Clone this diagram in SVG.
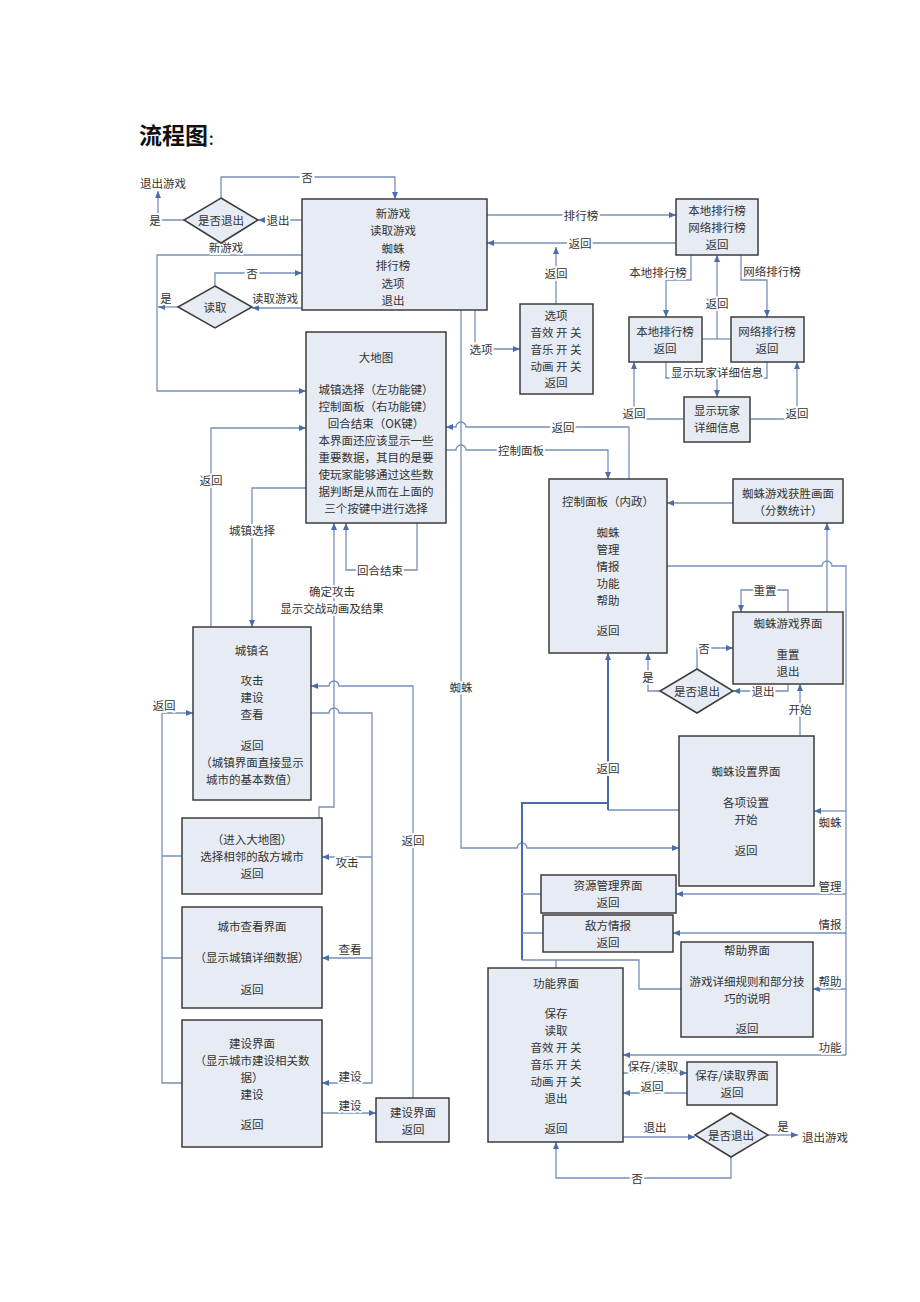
<svg xmlns="http://www.w3.org/2000/svg" width="920" height="1302" viewBox="0 0 920 1302">
<style>
.box{fill:#e6ebf4;stroke:#3c3c3c;stroke-width:1.5}
.t{font-family:"Noto Sans CJK SC","Liberation Serif",sans-serif;font-size:11.5px;fill:#333;text-anchor:middle;dominant-baseline:central}
.l{font-family:"Noto Sans CJK SC","Liberation Serif",sans-serif;font-size:11.5px;fill:#333;text-anchor:middle;dominant-baseline:central;paint-order:stroke;stroke:#fff;stroke-width:4px;stroke-linejoin:round}
.c{fill:none;stroke:#7890ba;stroke-width:1.3}
.a{marker-end:url(#ah)}
.k{fill:none;stroke:#4a6cad;stroke-width:2}
</style>
<defs>
<marker id="ah" markerWidth="7" markerHeight="6" refX="7" refY="3" orient="auto" markerUnits="userSpaceOnUse"><path d="M0,0 L7,3 L0,6 Z" fill="#4a6cad"/></marker>
</defs>
<rect width="920" height="1302" fill="#fff"/>
<g id="title"><text x="139" y="144" style="font-family:'Noto Sans CJK SC',sans-serif;font-size:23px;font-weight:bold;fill:#111">流程图<tspan style="font-size:13px">：</tspan></text></g>

<g id="connectors">
<path class="c a" d="M302,220 H258"/>
<path class="c a" d="M221,198 V177 H395 V199"/>
<path class="c a" d="M184,220 H158 V191"/>
<path class="c a" d="M302,255 H157 V391 H306"/>
<path class="c a" d="M215,286 V273 H302"/>
<path class="c a" d="M302,308 H252"/>
<path class="c a" d="M178,307 H158"/>
<path class="c a" d="M487,215 H676"/>
<path class="c a" d="M676,243 H487"/>
<path class="c a" d="M556,304 V247"/>
<path class="c a" d="M475,310 V349 H520"/>
<path class="c a" d="M461,310 V848 H517 A5,5 0 0 1 527,848 H679"/>
<path class="c a" d="M691,255 V280 H666 V317"/>
<path class="c a" d="M741,255 V280 H767 V317"/>
<path class="c" d="M702,339 H731"/>
<path class="c a" d="M717,339 V255"/>
<path class="c" d="M666,362 V378 H767 V362"/>
<path class="c a" d="M717,378 V397"/>
<path class="c a" d="M684,419 H634 V362"/>
<path class="c a" d="M750,419 H797 V362"/>
<path class="c a" d="M629,479 V427 H466 A5,5 0 0 0 456,427 H446"/>
<path class="c a" d="M446,450 H456 A5,5 0 0 1 466,450 H608 V479"/>
<path class="c a" d="M733,503 H667"/>
<path class="c" d="M667,566 H822 A5,5 0 0 1 832,566 H846 V1055"/>
<path class="c a" d="M846,811 H814"/>
<path class="c a" d="M846,894 H676"/>
<path class="c a" d="M846,933 H673"/>
<path class="c a" d="M846,989 H813"/>
<path class="c a" d="M846,1055 H623"/>
<path class="c a" d="M827,612 V523"/>
<path class="c a" d="M788,612 V590 H741 V612"/>
<path class="c a" d="M788,684 V691 H733"/>
<path class="c a" d="M697,669 V648 H733"/>
<path class="c a" d="M660,691 H648 V653"/>
<path class="c a" d="M800,736 V684"/>
<path class="c" d="M679,810 H608"/>
<path class="k a" d="M608,810 V653"/>
<path class="k" d="M522,960 V803 H608"/>
<path class="c" d="M541,894 H522 M543,933 H522"/>
<path class="c" d="M681,989 H639 V960 H522 M556,968 V960"/>
<path class="c a" d="M623,1073 H687"/>
<path class="c a" d="M687,1093 H623"/>
<path class="c a" d="M623,1137 H695"/>
<path class="c a" d="M768,1135 H798"/>
<path class="c a" d="M731,1157 V1178 H556 V1142"/>
<path class="c a" d="M211,627 V428 H306"/>
<path class="c a" d="M306,488 H252 V627"/>
<path class="c a" d="M417,523 V570 H346 V523"/>
<path class="c a" d="M319,818 V807 H334 V523"/>
<path class="c a" d="M413,1098 V686 H339 A5,5 0 0 0 329,686 H311"/>
<path class="c a" d="M311,713 H329 A5,5 0 0 1 339,713 H372 V1083 H322"/>
<path class="c a" d="M372,857 H322"/>
<path class="c a" d="M372,958 H322"/>
<path class="c a" d="M182,856 H162 M182,958 H162 M182,1083 H162 V713 H193"/>
<path class="c a" d="M320,1113 H376"/>
<text class="l" x="278" y="220">退出</text>
<text class="l" x="307" y="177">否</text>
<text class="l" x="155" y="220">是</text>
<text class="l" x="226" y="247">新游戏</text>
<text class="l" x="252" y="273">否</text>
<text class="l" x="275" y="298">读取游戏</text>
<text class="l" x="166" y="298">是</text>
<text class="l" x="581" y="215">排行榜</text>
<text class="l" x="580" y="243">返回</text>
<text class="l" x="556" y="273">返回</text>
<text class="l" x="481" y="349">选项</text>
<text class="l" x="461" y="687">蜘蛛</text>
<text class="l" x="658" y="272">本地排行榜</text>
<text class="l" x="772" y="271">网络排行榜</text>
<text class="l" x="717" y="303">返回</text>
<text class="l" x="717" y="372">显示玩家详细信息</text>
<text class="l" x="634" y="413">返回</text>
<text class="l" x="797" y="413">返回</text>
<text class="l" x="563" y="427">返回</text>
<text class="l" x="521" y="450">控制面板</text>
<text class="l" x="765" y="590">重置</text>
<text class="l" x="763" y="691">退出</text>
<text class="l" x="704" y="648">否</text>
<text class="l" x="648" y="677">是</text>
<text class="l" x="800" y="709">开始</text>
<text class="l" x="608" y="768">返回</text>
<text class="l" x="830" y="822">蜘蛛</text>
<text class="l" x="830" y="886">管理</text>
<text class="l" x="830" y="924">情报</text>
<text class="l" x="830" y="981">帮助</text>
<text class="l" x="830" y="1047">功能</text>
<text class="l" x="653" y="1066">保存/读取</text>
<text class="l" x="652" y="1086">返回</text>
<text class="l" x="655" y="1127">退出</text>
<text class="l" x="783" y="1126">是</text>
<text class="l" x="637" y="1178">否</text>
<text class="l" x="211" y="480">返回</text>
<text class="l" x="252" y="530">城镇选择</text>
<text class="l" x="380" y="570">回合结束</text>
<text class="l" x="332" y="591">确定攻击</text>
<text class="l" x="332" y="608">显示交战动画及结果</text>
<text class="l" x="413" y="840">返回</text>
<text class="l" x="347" y="862">攻击</text>
<text class="l" x="350" y="949">查看</text>
<text class="l" x="350" y="1076">建设</text>
<text class="l" x="164" y="705">返回</text>
<text class="l" x="350" y="1105">建设</text>
</g>

<g id="exit-game-top"><text class="t" x="163" y="183">退出游戏</text></g>
<g id="exit-game-bottom"><text class="t" x="825" y="1137">退出游戏</text></g>

<g id="main-menu">
<rect class="box" x="302" y="199" width="185" height="111"/>
<text class="t" x="393" y="213">新游戏</text>
<text class="t" x="393" y="230">读取游戏</text>
<text class="t" x="393" y="248">蜘蛛</text>
<text class="t" x="393" y="265">排行榜</text>
<text class="t" x="393" y="283">选项</text>
<text class="t" x="393" y="300">退出</text>
</g>

<g id="quit-diamond-top">
<polygon class="box" points="221,198 258,220 221,243 184,220"/>
<text class="t" x="221" y="220">是否退出</text>
</g>

<g id="load-diamond">
<polygon class="box" points="215,286 252,307 215,328 178,307"/>
<text class="t" x="215" y="307">读取</text>
</g>

<g id="ranking">
<rect class="box" x="676" y="199" width="82" height="56"/>
<text class="t" x="717" y="210">本地排行榜</text>
<text class="t" x="717" y="227">网络排行榜</text>
<text class="t" x="717" y="244">返回</text>
</g>

<g id="options">
<rect class="box" x="520" y="304" width="73" height="90"/>
<text class="t" x="556" y="315">选项</text>
<text class="t" x="556" y="332">音效 开 关</text>
<text class="t" x="556" y="349">音乐 开 关</text>
<text class="t" x="556" y="366">动画 开 关</text>
<text class="t" x="556" y="382">返回</text>
</g>

<g id="local-ranking">
<rect class="box" x="629" y="317" width="73" height="45"/>
<text class="t" x="665" y="331">本地排行榜</text>
<text class="t" x="665" y="348">返回</text>
</g>

<g id="net-ranking">
<rect class="box" x="731" y="317" width="73" height="45"/>
<text class="t" x="767" y="331">网络排行榜</text>
<text class="t" x="767" y="348">返回</text>
</g>

<g id="player-detail">
<rect class="box" x="684" y="397" width="66" height="45"/>
<text class="t" x="717" y="410">显示玩家</text>
<text class="t" x="717" y="427">详细信息</text>
</g>

<g id="world-map">
<rect class="box" x="306" y="332" width="140" height="191"/>
<text class="t" x="376" y="357">大地图</text>
<text class="t" x="376" y="389">城镇选择（左功能键）</text>
<text class="t" x="376" y="406">控制面板（右功能键）</text>
<text class="t" x="376" y="423">回合结束（OK键）</text>
<text class="t" x="376" y="440">本界面还应该显示一些</text>
<text class="t" x="376" y="457">重要数据，其目的是要</text>
<text class="t" x="376" y="474">使玩家能够通过这些数</text>
<text class="t" x="376" y="491">据判断是从而在上面的</text>
<text class="t" x="376" y="508">三个按键中进行选择</text>
</g>

<g id="control-panel">
<rect class="box" x="549" y="479" width="118" height="174"/>
<text class="t" x="608" y="501">控制面板（内政）</text>
<text class="t" x="608" y="532">蜘蛛</text>
<text class="t" x="608" y="549">管理</text>
<text class="t" x="608" y="566">情报</text>
<text class="t" x="608" y="583">功能</text>
<text class="t" x="608" y="600">帮助</text>
<text class="t" x="608" y="630">返回</text>
</g>

<g id="spider-win">
<rect class="box" x="733" y="479" width="110" height="44"/>
<text class="t" x="788" y="493">蜘蛛游戏获胜画面</text>
<text class="t" x="788" y="510">（分数统计）</text>
</g>

<g id="spider-game">
<rect class="box" x="733" y="612" width="110" height="72"/>
<text class="t" x="788" y="623">蜘蛛游戏界面</text>
<text class="t" x="788" y="654">重置</text>
<text class="t" x="788" y="671">退出</text>
</g>

<g id="quit-diamond-spider">
<polygon class="box" points="697,669 733,691 697,713 660,691"/>
<text class="t" x="697" y="691">是否退出</text>
</g>

<g id="spider-setup">
<rect class="box" x="679" y="736" width="135" height="150"/>
<text class="t" x="746" y="771">蜘蛛设置界面</text>
<text class="t" x="746" y="802">各项设置</text>
<text class="t" x="746" y="819">开始</text>
<text class="t" x="746" y="850">返回</text>
</g>

<g id="resource">
<rect class="box" x="541" y="875" width="135" height="38"/>
<text class="t" x="608" y="885">资源管理界面</text>
<text class="t" x="608" y="902">返回</text>
</g>

<g id="intel">
<rect class="box" x="543" y="915" width="130" height="37"/>
<text class="t" x="608" y="925">敌方情报</text>
<text class="t" x="608" y="942">返回</text>
</g>

<g id="help">
<rect class="box" x="681" y="942" width="132" height="95"/>
<text class="t" x="747" y="950">帮助界面</text>
<text class="t" x="747" y="981">游戏详细规则和部分技</text>
<text class="t" x="747" y="998">巧的说明</text>
<text class="t" x="747" y="1028">返回</text>
</g>

<g id="function">
<rect class="box" x="488" y="968" width="135" height="174"/>
<text class="t" x="556" y="983">功能界面</text>
<text class="t" x="556" y="1013">保存</text>
<text class="t" x="556" y="1030">读取</text>
<text class="t" x="556" y="1047">音效 开 关</text>
<text class="t" x="556" y="1064">音乐 开 关</text>
<text class="t" x="556" y="1081">动画 开 关</text>
<text class="t" x="556" y="1098">退出</text>
<text class="t" x="556" y="1128">返回</text>
</g>

<g id="save-load">
<rect class="box" x="687" y="1062" width="90" height="43"/>
<text class="t" x="732" y="1075">保存/读取界面</text>
<text class="t" x="732" y="1092">返回</text>
</g>

<g id="quit-diamond-bottom">
<polygon class="box" points="731,1113 768,1135 731,1157 695,1135"/>
<text class="t" x="731" y="1135">是否退出</text>
</g>

<g id="town">
<rect class="box" x="193" y="627" width="118" height="173"/>
<text class="t" x="252" y="650">城镇名</text>
<text class="t" x="252" y="680">攻击</text>
<text class="t" x="252" y="697">建设</text>
<text class="t" x="252" y="714">查看</text>
<text class="t" x="252" y="745">返回</text>
<text class="t" x="252" y="762">（城镇界面直接显示</text>
<text class="t" x="252" y="779">城市的基本数值）</text>
</g>

<g id="attack">
<rect class="box" x="182" y="818" width="140" height="76"/>
<text class="t" x="252" y="839">（进入大地图）</text>
<text class="t" x="252" y="856">选择相邻的敌方城市</text>
<text class="t" x="252" y="873">返回</text>
</g>

<g id="city-view">
<rect class="box" x="182" y="907" width="140" height="101"/>
<text class="t" x="252" y="926">城市查看界面</text>
<text class="t" x="252" y="957">（显示城镇详细数据）</text>
<text class="t" x="252" y="989">返回</text>
</g>

<g id="build">
<rect class="box" x="182" y="1020" width="140" height="127"/>
<text class="t" x="252" y="1043">建设界面</text>
<text class="t" x="252" y="1060">（显示城市建设相关数</text>
<text class="t" x="252" y="1077">据）</text>
<text class="t" x="252" y="1094">建设</text>
<text class="t" x="252" y="1124">返回</text>
</g>

<g id="build-sub">
<rect class="box" x="376" y="1098" width="73" height="44"/>
<text class="t" x="413" y="1112">建设界面</text>
<text class="t" x="413" y="1129">返回</text>
</g>
</svg>
